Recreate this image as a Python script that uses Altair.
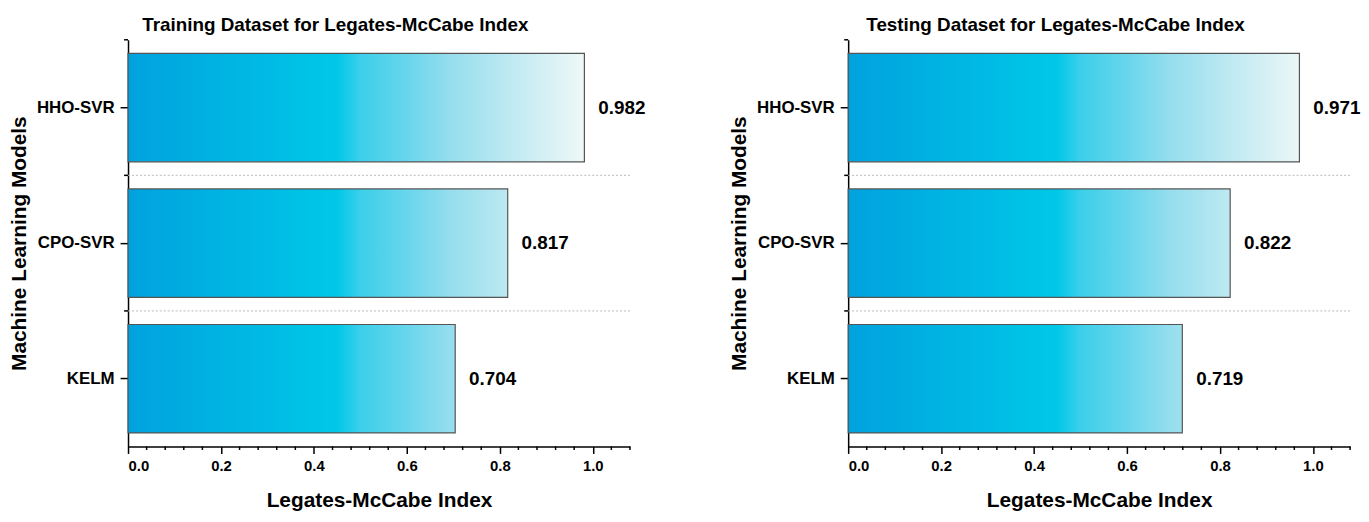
import altair as alt
import pandas as pd

FONT = "Liberation Sans"

models = ["HHO-SVR", "CPO-SVR", "KELM"]
train_vals = [0.982, 0.817, 0.704]
test_vals = [0.971, 0.822, 0.719]
major_ticks = [0.0, 0.2, 0.4, 0.6, 0.8, 1.0]
minor_ticks = [0.04, 0.08, 0.12, 0.16, 0.24, 0.28, 0.32, 0.36,
               0.44, 0.48, 0.52, 0.56, 0.64, 0.68, 0.72, 0.76, 0.84,
               0.88, 0.92, 0.96, 1.04, 1.08]
x_domain = [0, 1.08]
# gradient stops expressed in data units along the x axis
grad_stops = [(0.0, "#00A2DE"), (0.45, "#00C8E8"), (0.5, "#3CCFEA"), (0.6, "#68D6EC"),
              (0.7, "#98DEEE"), (0.82, "#BDE9F2"), (0.98, "#EEF8F7")]

W, H = 506, 410


def panel(vals, title):
    df = pd.DataFrame({"model": models, "value": vals})
    tick_df = pd.DataFrame({"t": minor_ticks})
    base = alt.Chart(df)
    yscale = alt.Scale(domain=models, paddingInner=0, paddingOuter=0)
    xscale = alt.Scale(domain=x_domain, nice=False, zero=True)
    yenc = alt.Y("model:N", sort=models, scale=yscale,
                 axis=alt.Axis(title="Machine Learning Models", titleFontSize=21,
                               titleFont=FONT, titleFontWeight="bold", titleColor="#000",
                               titlePadding=7, labelFont=FONT, labelFontSize=17,
                               labelFontWeight="bold", labelColor="#000", labelPadding=6,
                               tickSize=8, tickWidth=1.5, tickColor="#000",
                               domainColor="#000", domainWidth=1.5, grid=False))
    xenc = alt.X("value:Q", scale=xscale,
                 axis=alt.Axis(values=major_ticks, format=".1f", title="Legates-McCabe Index",
                               titleFontSize=21, titleFont=FONT, titleFontWeight="bold",
                               titleColor="#000", titlePadding=17, labelFont=FONT,
                               labelFontSize=15, labelFontWeight="bold", labelColor="#000",
                               labelPadding=5, tickSize=7, tickWidth=1.5, tickColor="#000",
                               domainColor="#000", domainWidth=1.5, grid=False))
    layers = []
    for m, v in zip(models, vals):
        grad = {"gradient": "linear", "x1": 0, "x2": 1.0 / v, "y1": 0, "y2": 0,
                "stops": [{"offset": o, "color": c} for o, c in grad_stops]}
        layers.append(
            base.transform_filter(alt.datum.model == m)
            .mark_bar(height={"band": 0.8}, fill=grad, stroke="#555555", strokeWidth=1.2)
            .encode(x=xenc, y=yenc)
        )
    # dotted separators between categories
    grid = base.transform_filter(alt.datum.model != models[0]).mark_rule(
        color="#bbbbbb", strokeDash=[2, 2], strokeWidth=1
    ).encode(y=alt.Y("model:N", sort=models, bandPosition=0),
             x=alt.value(0), x2=alt.value(W))
    # small ticks at the category boundaries
    bticks = base.mark_rule(color="#000", strokeWidth=1.5).encode(
        y=alt.Y("model:N", sort=models, bandPosition=0),
        x=alt.value(-4), x2=alt.value(0))
    labels = base.mark_text(align="left", baseline="middle", dx=14, font=FONT,
                            fontSize=19, fontWeight="bold", color="#000").encode(
        x=alt.X("value:Q", scale=xscale), y=alt.Y("model:N", sort=models),
        text=alt.Text("value:Q", format=".3f"))
    # minor ticks on the x axis
    minor = alt.Chart(tick_df).mark_rule(color="#000", strokeWidth=1.5).encode(
        x=alt.X("t:Q", scale=xscale), y=alt.value(H), y2=alt.value(H + 3.5))
    ch = alt.layer(*layers, grid, bticks, labels, minor).properties(
        width=W, height=H,
        view=alt.ViewBackground(stroke="transparent", strokeWidth=0),
        title=alt.TitleParams(title, font=FONT, fontSize=19, fontWeight="bold", color="#000",
                              anchor="middle", frame="group", dx=-44, offset=-11,
                              baseline="alphabetic"))
    return ch


chart = alt.hconcat(panel(train_vals, "Training Dataset for Legates-McCabe Index"),
                    panel(test_vals, "Testing Dataset for Legates-McCabe Index"),
                    spacing=220, bounds="flush").properties(
    padding={"left": 0, "top": 6, "right": 0, "bottom": 0}
).configure_view(stroke="transparent", strokeWidth=0, strokeOpacity=0
).configure_axis(grid=False).configure(background="white")

chart.save("out.html", embed_options={"renderer": "svg", "actions": False})
